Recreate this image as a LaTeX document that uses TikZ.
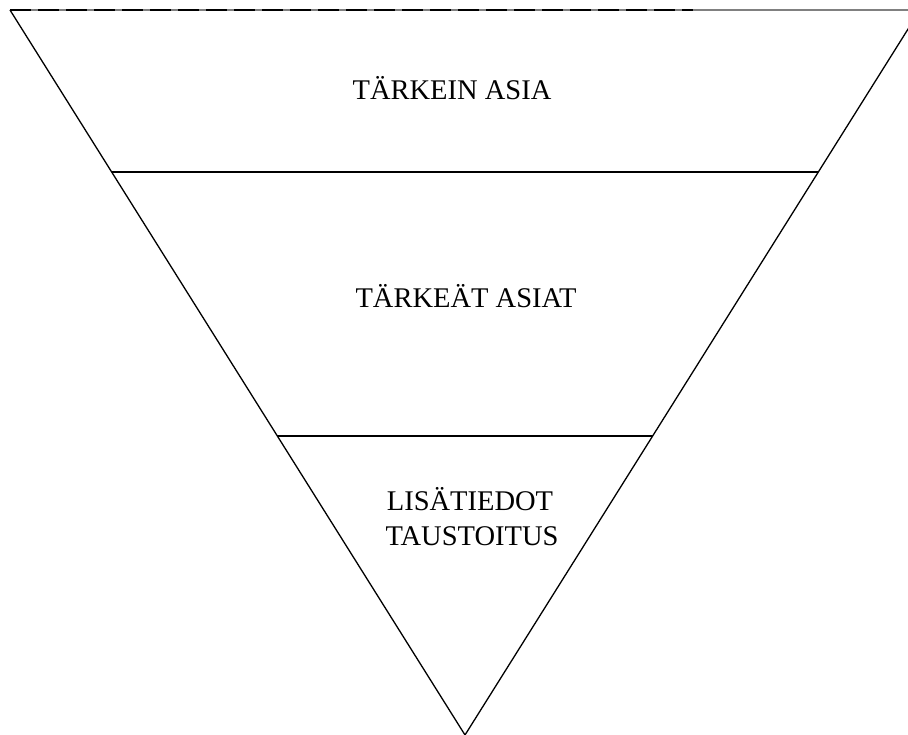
\documentclass[tikz,border=0pt]{standalone}
\usepackage{fontspec}
\setmainfont{Liberation Serif}
\usetikzlibrary{calc}
\begin{document}
\begin{tikzpicture}[x=1pt,y=-1pt,
  edge/.style={line width=1.3pt,black},
  label/.style={font=\fontsize{28.5}{35}\selectfont,anchor=base,inner sep=0pt,align=center}]
\useasboundingbox (0,0) rectangle (908,735);
\clip (0,0) rectangle (908,735);
\coordinate (tl) at (10,10);
\coordinate (tr) at (920,10);
\coordinate (ap) at (465,735);
\coordinate (mid) at (693,10);
\coordinate (redge) at (908,10);
% top edge
\draw[line width=1.4pt,gray] (tl) -- (redge);
\draw[line width=1.6pt,black,dash pattern=on 21pt off 7pt] (tl) -- (mid);
% sides
\draw[edge] (tl) -- (ap) -- (tr);
% dividers
\draw[edge] ($(tl)!{162/725}!(ap)$) -- ($(tr)!{162/725}!(ap)$);
\draw[edge] ($(tl)!{426/725}!(ap)$) -- ($(tr)!{426/725}!(ap)$);
% texts
\node[label] (t1) at (452,100) {TÄRKEIN ASIA};
\node[label] (t2) at (466,308) {TÄRKEÄT ASIAT};
\node[label] (t3) at (470,510) {LISÄTIEDOT};
\node[label] (t4) at (472,545) {TAUSTOITUS};
\end{tikzpicture}
\end{document}
